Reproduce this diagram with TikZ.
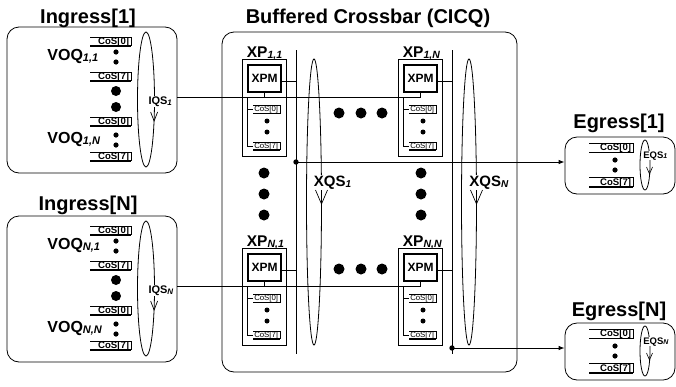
\documentclass[tikz,border=0pt]{standalone}
\usepackage{fontspec}
\setmainfont{Liberation Sans}
\usetikzlibrary{arrows.meta}
\newcommand\fs[1]{\fontsize{#1}{#1}\selectfont}
\newcommand\sbx[2]{{\fs{#1}\itshape #2}}
% #1 name, #2 left x, #3 right x, #4 top y, #5 bottom y, #6 font, #7 text
\newcommand\CoSQ[7]{%
  \draw[line width=0.6pt] (#2,#4) -- (#3,#4) -- (#3,#5);
  \draw[line width=1.4pt] (#2,#5) -- (#3,#5);
  \node[anchor=base east, inner sep=0pt, font=#6] (#1) at ({#3-1.5},{#5-1.8}) {#7};
}
\newcommand\IngressBody[3]{%
  \node[box, minimum width=170pt, minimum height=146pt] (ing) at (92,100) {};
  \CoSQ{q0a}{90}{131}{37}{46}{\fs{9.6}\bfseries}{CoS[0]}
  \CoSQ{q7a}{90}{131}{72}{81}{\fs{9.6}\bfseries}{CoS[7]}
  \CoSQ{q0b}{90}{131}{117}{126}{\fs{9.6}\bfseries}{CoS[0]}
  \CoSQ{q7b}{90}{131}{152}{161}{\fs{9.6}\bfseries}{CoS[7]}
  \fill (116,52) circle (2.6pt) (116,62) circle (2.6pt) (116,135) circle (2.6pt) (116,145) circle (2.6pt);
  \fill (116,91) circle (5pt) (116,107) circle (5pt);
  \node[anchor=base west, inner sep=0pt, font=\fs{16}\bfseries] (voqa) at (47,60) {VOQ\raisebox{-1pt}{\sbx{11}{#1}}};
  \node[anchor=base west, inner sep=0pt, font=\fs{16}\bfseries] (voqb) at (47,143) {VOQ\raisebox{-1pt}{\sbx{11}{#2}}};
  \draw (146,99.5) ellipse [x radius=8.5pt, y radius=67.5pt];
  \node[anchor=base west, fill=white, inner sep=0.6pt, font=\fs{11}\bfseries] (iqs) at (147.5,104.5) {IQS\raisebox{-0.8pt}{\sbx{8}{#3}}};
  \draw[line width=0.7pt] (150.6,112) -- (154.1,121) -- (157.6,112);
}
\newcommand\XPBody[1]{%
  \node[draw, minimum width=44pt, minimum height=97pt, inner sep=0pt] (xp) at (264,107.5) {};
  \node[draw, line width=1.1pt, minimum width=33pt, minimum height=27pt, inner sep=0pt, font=\fs{12}\bfseries] (xpm) at (264.5,78.5) {XPM};
  \node[anchor=base west, inner sep=0pt, font=\fs{15.5}\bfseries] (lbl) at (246.5,57) {XP\raisebox{-1pt}{\sbx{10.5}{#1}}};
  \CoSQ{c0}{253}{280}{105.5}{113.5}{\fs{7.8}}{CoS[0]}
  \CoSQ{c7}{253}{280}{142}{150}{\fs{7.8}}{CoS[7]}
  \fill (267,121) circle (2.5pt) (267,132) circle (2.5pt);
  \draw (247,97) -- (247,146) -- (253,146) (247,109.5) -- (253,109.5);
  \draw ([yshift=-2.5pt]xpm.east) -- ++(15,0);
}
\newcommand\EgressBody[1]{%
  \node[box, minimum width=110pt, minimum height=57pt] (eg) at (620,165.5) {};
  \CoSQ{e0}{589}{633}{143}{152.5}{\fs{9.6}\bfseries}{CoS[0]}
  \CoSQ{e7}{589}{633}{177.5}{187}{\fs{9.6}\bfseries}{CoS[7]}
  \fill (615,160) circle (2.6pt) (615,170) circle (2.6pt);
  \draw (645,165) ellipse [x radius=5pt, y radius=25pt];
  \node[anchor=base west, fill=white, inner sep=0.5pt, font=\fs{9.5}\bfseries] (eqs) at (642.5,158) {EQS\raisebox{-0.6pt}{\sbx{7}{#1}}};
  \draw[line width=0.6pt] (646.5,167) -- (649.5,174) -- (652.5,167);
}
\begin{document}
\begin{tikzpicture}[x=1pt,y=-1pt,line width=0.8pt,
  box/.style={draw, rounded corners=12pt, inner sep=0pt},
  ttl/.style={font=\fs{20}\bfseries, anchor=base, inner sep=0pt},
  xqs/.style={anchor=base west, fill=white, inner sep=1pt, font=\fs{15}\bfseries},
  arr/.style={-{Latex[length=6pt,width=4.5pt]}}]
\useasboundingbox (0,0) rectangle (676,386);

% titles
\node[ttl] (t-in1) at (88,23) {Ingress[1]};
\node[ttl] (t-inN) at (88,210) {Ingress[N]};
\node[ttl] (t-xb) at (368,23) {Buffered Crossbar (CICQ)};
\node[ttl] (t-eg1) at (619,128) {Egress[1]};
\node[ttl] (t-egN) at (619,316) {Egress[N]};

% ingress blocks
\begin{scope}[name prefix=a-]
  \IngressBody{1,1}{1,N}{1}
\end{scope}
\begin{scope}[yshift=-189pt, name prefix=b-]
  \IngressBody{N,1}{N,N}{N}
\end{scope}

% crossbar
\node[box, minimum width=295pt, minimum height=340pt] (xbar) at (369.5,202) {};
\draw (314,202) ellipse [x radius=7.5pt, y radius=143pt];
\draw (469,202) ellipse [x radius=7.5pt, y radius=143pt];

\begin{scope}[name prefix=p11-]
  \XPBody{1,1}
\end{scope}
\begin{scope}[xshift=156pt, name prefix=p1N-]
  \XPBody{1,N}
\end{scope}
\begin{scope}[yshift=-189pt, name prefix=pN1-]
  \XPBody{N,1}
\end{scope}
\begin{scope}[xshift=156pt, yshift=-189pt, name prefix=pNN-]
  \XPBody{N,N}
\end{scope}

% output columns
\coordinate (o1t) at (296,50); \coordinate (o1b) at (296,354);
\coordinate (oNt) at (452,50); \coordinate (oNb) at (452,354);
\draw (o1t) -- (o1b);
\draw (oNt) -- (oNb);

% input rows
\coordinate (r1) at ([yshift=3pt]a-ing.east);
\coordinate (rN) at ([yshift=3pt]b-ing.east);
\draw (r1) -- (r1 -| p1N-xpm.south) -- (p1N-xpm.south);
\draw (p11-xpm.south) -- (p11-xpm.south |- r1);
\draw (rN) -- (rN -| pNN-xpm.south) -- (pNN-xpm.south);
\draw (pN1-xpm.south) -- (pN1-xpm.south |- rN);

% ellipsis dots
\fill (339,113) circle (5.5pt) (361,113) circle (5.5pt) (382,113) circle (5.5pt);
\fill (339,269) circle (5.5pt) (361,269) circle (5.5pt) (382,269) circle (5.5pt);
\fill (264,173) circle (5.5pt) (264,194) circle (5.5pt) (264,215) circle (5.5pt);
\fill (421,173) circle (5.5pt) (421,194) circle (5.5pt) (421,215) circle (5.5pt);

% XQS labels
\node[xqs] (xqs1) at (312.5,186) {XQS\raisebox{-1pt}{\sbx{10}{1}}};
\node[xqs] (xqsN) at (468,186) {XQS\raisebox{-1pt}{\sbx{10}{N}}};
\draw[line width=0.7pt] (315.5,190) -- (321.5,204) -- (327.5,190);
\draw[line width=0.7pt] (470.5,190) -- (476.5,204) -- (482.5,190);

% egress blocks
\begin{scope}[name prefix=e1-]
  \EgressBody{1}
\end{scope}
\begin{scope}[yshift=-186pt, name prefix=eN-]
  \EgressBody{N}
\end{scope}

% outputs to egress
\coordinate (j1) at (296,162);
\coordinate (j2) at (452,348);
\fill (j1) circle (2.7pt);
\fill (j2) circle (2.7pt);
\draw[arr] (j1) -- (j1 -| e1-eg.west);
\draw[arr] (j2) -- (j2 -| eN-eg.west);
\end{tikzpicture}
\end{document}
